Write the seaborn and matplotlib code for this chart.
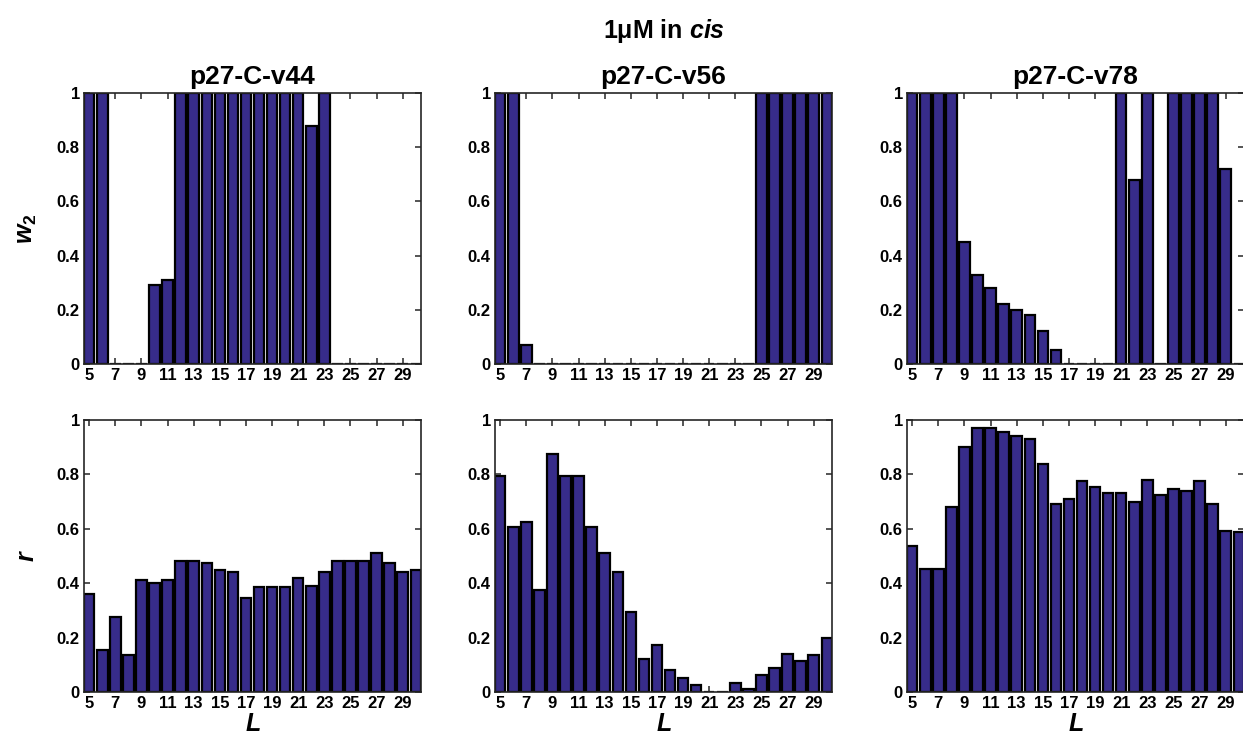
import numpy as np
import pandas as pd
import matplotlib
matplotlib.use("Agg")
import matplotlib.pyplot as plt
from matplotlib import font_manager
import seaborn as sns

# ---------------- data ----------------
L = list(range(5, 31))
titles = ["p27-C-v44", "p27-C-v56", "p27-C-v78"]

w2_v44 = [1, 1, 0, 0, 0, 0.29, 0.31, 1, 1, 1, 1, 1, 1, 1, 1, 1, 1, 0.88, 1,
          0, 0, 0, 0, 0, 0, 0]
w2_v56 = [1, 1, 0.07, 0, 0, 0, 0, 0, 0, 0, 0, 0, 0, 0, 0, 0, 0, 0, 0, 0,
          1, 1, 1, 1, 1, 1]
w2_v78 = [1, 1, 1, 1, 0.45, 0.33, 0.28, 0.22, 0.20, 0.18, 0.12, 0.05,
          0, 0, 0, 0, 1, 0.68, 1, 0, 1, 1, 1, 1, 0.72, 0]

r_v44 = [0.36, 0.155, 0.275, 0.135, 0.41, 0.40, 0.41, 0.48, 0.48, 0.475,
         0.45, 0.44, 0.345, 0.385, 0.385, 0.385, 0.42, 0.39, 0.44, 0.48,
         0.48, 0.48, 0.51, 0.475, 0.44, 0.45]
r_v56 = [0.795, 0.607, 0.625, 0.375, 0.875, 0.795, 0.795, 0.607, 0.512,
         0.44, 0.293, 0.123, 0.172, 0.08, 0.05, 0.025, 0, 0, 0.033, 0.01,
         0.063, 0.088, 0.14, 0.115, 0.135, 0.20]
r_v78 = [0.537, 0.454, 0.454, 0.68, 0.90, 0.969, 0.969, 0.957, 0.941,
         0.929, 0.837, 0.69, 0.708, 0.775, 0.753, 0.733, 0.733, 0.70,
         0.779, 0.724, 0.748, 0.739, 0.775, 0.692, 0.591, 0.587]

xticks = list(range(5, 30, 2))
yticks = [0, 0.2, 0.4, 0.6, 0.8, 1]
yticklabels = ["0", "0.2", "0.4", "0.6", "0.8", "1"]

# ---------------- style ----------------
sns.set_style("white")
names = {f.name for f in font_manager.fontManager.ttflist}
FONT = "Liberation Sans Narrow" if "Liberation Sans Narrow" in names else "Liberation Sans"
plt.rcParams["font.family"] = [FONT, "DejaVu Sans"]
plt.rcParams["font.weight"] = "bold"
plt.rcParams["mathtext.fontset"] = "custom"
plt.rcParams["mathtext.it"] = FONT + ":italic:bold"
plt.rcParams["mathtext.rm"] = FONT
plt.rcParams["mathtext.bf"] = FONT + ":bold"
for k in ["text.color", "axes.labelcolor", "xtick.color", "ytick.color"]:
    plt.rcParams[k] = "black"

BAR = "#372C8A"
SPINE = "#262626"
TICK_FS = 12
TITLE_FS = 19
SUP_FS = 18
LABEL_FS = 18

fig = plt.figure(figsize=(12.43, 7.49), dpi=100)

W, H = 1243.0, 749.0
lefts = [84, 495, 907]
width = 337
rows = [(93, 364), (420, 692)]

top_data = [w2_v44, w2_v56, w2_v78]
bot_data = [r_v44, r_v56, r_v78]

for ri, (ytop, ybot) in enumerate(rows):
    for ci, lx in enumerate(lefts):
        ax = fig.add_axes([lx / W, 1 - ybot / H, width / W, (ybot - ytop) / H])
        vals = top_data[ci] if ri == 0 else bot_data[ci]
        df = pd.DataFrame({"L": L, "v": vals})
        sns.barplot(data=df, x="L", y="v", native_scale=True, width=0.8,
                    color=BAR, saturation=1, edgecolor="black", linewidth=1.6,
                    errorbar=None, ax=ax)
        ax.set_xlim(4.6, 30.4)
        ax.set_ylim(0, 1)
        ax.set_xticks(xticks)
        ax.set_xticklabels([str(t) for t in xticks], fontsize=TICK_FS, fontweight="bold")
        ax.set_yticks(yticks)
        ax.set_yticklabels(yticklabels, fontsize=TICK_FS, fontweight="bold")
        ax.tick_params(direction="in", length=4, width=1.1, color=SPINE,
                       labelcolor="black",
                       top=True, right=True, bottom=True, left=True, pad=3)
        for s in ax.spines.values():
            s.set_color(SPINE)
            s.set_linewidth(1.2)
            s.set_visible(True)
        ax.set_xlabel("")
        ax.set_ylabel("")
        if ri == 0:
            ax.set_title(titles[ci], fontsize=TITLE_FS, fontweight="bold", pad=6.5,
                         color="black")
        else:
            ax.set_xlabel("$L$", fontsize=LABEL_FS, color="black")
            ax.xaxis.set_label_coords(0.5, -0.072)
        if ci == 0:
            ax.set_ylabel("$w_2$" if ri == 0 else "$r$", fontsize=LABEL_FS,
                          color="black")
            ax.yaxis.set_label_coords(-0.135, 0.5)

fig.text(664 / W, 1 - 31 / H, "1\u03bcM in $cis$", ha="center", va="center",
         fontsize=SUP_FS, fontweight="bold", color="black")

fig.savefig("out.png", dpi=100)
